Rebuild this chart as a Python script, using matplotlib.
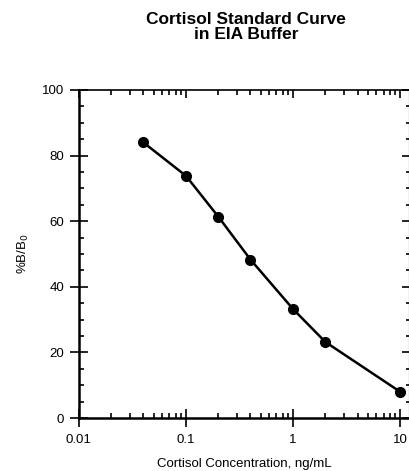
import numpy as np
import matplotlib
matplotlib.use("Agg")
import matplotlib.pyplot as plt
from matplotlib.ticker import FixedLocator, MultipleLocator, LogLocator, NullFormatter

# standard curve readings
conc = [0.04, 0.1, 0.2, 0.4, 1, 2, 10]
pct_b_b0 = [84, 73.8, 61.4, 48.3, 33.2, 23.2, 8.0]
xticks = [0.01, 0.1, 1, 10]
xticklabels = ["0.01", "0.1", "1", "10"]
yticks = [0, 20, 40, 60, 80, 100]

plt.rcParams['font.family'] = ['Liberation Sans', 'DejaVu Sans']

fig = plt.figure(figsize=(4.09, 4.71), dpi=100)
ax = fig.add_axes([0.193, 0.1125, 0.807, 0.6965])

ax.plot(conc, pct_b_b0, color="black", linewidth=1.8, marker="o",
        markersize=7, markerfacecolor="black", markeredgecolor="black",
        clip_on=False)

ax.set_xscale("log")
ax.set_xlim(0.01, 12.1)
ax.set_ylim(0, 100)

ax.xaxis.set_major_locator(FixedLocator(xticks))
ax.set_xticklabels(xticklabels)
ax.xaxis.set_minor_locator(LogLocator(base=10, subs=np.arange(2, 10)))
ax.xaxis.set_minor_formatter(NullFormatter())
ax.yaxis.set_major_locator(FixedLocator(yticks))
ax.yaxis.set_minor_locator(MultipleLocator(5))

ax.tick_params(which="major", direction="inout", length=13, width=1.2,
               labelsize=9.5, pad=4)
ax.tick_params(axis="x", which="major", pad=5)
ax.tick_params(which="minor", direction="in", length=3.5, width=1.2)

# inward ticks on the top and right sides
top = ax.secondary_xaxis("top")
top.xaxis.set_major_locator(FixedLocator(xticks))
top.xaxis.set_minor_locator(LogLocator(base=10, subs=np.arange(2, 10)))
top.xaxis.set_major_formatter(NullFormatter())
top.xaxis.set_minor_formatter(NullFormatter())
top.tick_params(which="major", direction="in", length=6, width=1.2)
top.tick_params(which="minor", direction="in", length=3.5, width=1.2)
top.spines["top"].set_linewidth(1.2)

right = ax.secondary_yaxis("right")
right.yaxis.set_major_locator(FixedLocator(yticks))
right.yaxis.set_minor_locator(MultipleLocator(5))
right.yaxis.set_major_formatter(NullFormatter())
right.tick_params(which="major", direction="in", length=5, width=1.2)
right.tick_params(which="minor", direction="in", length=2, width=1.2)

for side in ["left", "bottom"]:
    ax.spines[side].set_linewidth(1.8)
ax.spines["top"].set_visible(False)
ax.spines["right"].set_visible(False)

ax.set_xlabel("Cortisol Concentration, ng/mL", fontsize=9.5, labelpad=9)
ax.set_ylabel("%B/B$_0$", fontsize=9.5, labelpad=8)

fig.text(0.601, 0.975, "Cortisol Standard Curve\nin EIA Buffer", ha="center",
         va="top", fontsize=12.5, fontweight="bold", linespacing=1.0)

fig.savefig("out.png", dpi=100)
